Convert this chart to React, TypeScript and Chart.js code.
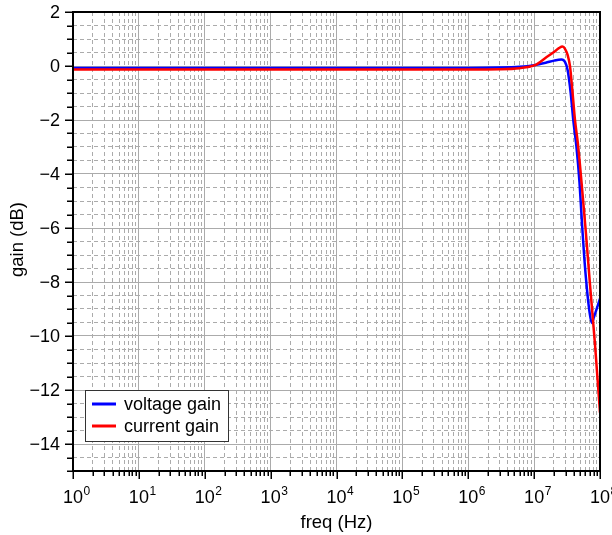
import { useEffect, useRef } from "react";
import { Chart, registerables } from "chart.js";

Chart.register(...registerables);

// ---- data ----
const seriesLabels = ["voltage gain", "current gain"];
const seriesColors = ["#0000ff", "#ff0000"];

const voltageFreq = [1, 1e1, 1e2, 1e3, 1e4, 1e5, 1e6, 3e6, 6e6, 1e7, 1.5e7, 2e7, 2.6e7, 2.94e7, 3.23e7, 3.59e7, 3.93e7, 4.39e7, 4.88e7, 5.32e7, 5.77e7, 6.3e7, 6.88e7, 7.48e7, 8.1e7, 1e8];
const voltageGain = [-0.07, -0.07, -0.07, -0.07, -0.07, -0.07, -0.07, -0.06, -0.03, 0.03, 0.12, 0.2, 0.24, 0.15, -0.16, -1.0, -2.0, -3.0, -4.3, -5.8, -7.1, -8.2, -9.05, -9.52, -9.3, -8.62];

const currentFreq = [1, 1e1, 1e2, 1e3, 1e4, 1e5, 1e6, 3e6, 6e6, 1e7, 1.55e7, 2e7, 2.38e7, 2.69e7, 2.97e7, 3.23e7, 3.5e7, 3.82e7, 4.17e7, 4.63e7, 5.24e7, 6.07e7, 7.05e7, 8.39e7, 1e8];
const currentGain = [-0.13, -0.13, -0.13, -0.13, -0.13, -0.13, -0.13, -0.12, -0.08, 0.02, 0.33, 0.52, 0.66, 0.72, 0.62, 0.4, 0.0, -0.95, -2.0, -2.9, -4.3, -6.1, -8.1, -10.3, -12.84];

const xDecadeExponents = [0, 1, 2, 3, 4, 5, 6, 7, 8];
const yTickLabels = [2, 0, -2, -4, -6, -8, -10, -12, -14];
const yMin = -15;
const yMax = 2;
const yMinorStep = 0.5;
const xTitle = "freq (Hz)";
const yTitle = "gain (dB)";

const FONT = '"Liberation Sans", Arial, Helvetica, sans-serif';
const GRID = "#ababab";

function isDecade(v: number) {
  const l = Math.log10(v);
  return Math.abs(l - Math.round(l)) < 1e-9;
}
function isYMajor(v: number) {
  return Math.abs(v / 2 - Math.round(v / 2)) < 1e-9;
}
function fmtNum(v: number) {
  return v < 0 ? "\u2212" + Math.abs(v) : String(v);
}

const xGridValues: number[] = [];
for (let i = 0; i < xDecadeExponents.length - 1; i++) {
  for (let m = 1; m <= 9; m++) xGridValues.push(m * Math.pow(10, xDecadeExponents[i]));
}
xGridValues.push(Math.pow(10, xDecadeExponents[xDecadeExponents.length - 1]));

const yGridValues: number[] = [];
for (let v = yMin; v <= yMax + 1e-9; v += yMinorStep) yGridValues.push(Math.round(v * 10) / 10);

const igorPlugin = {
  id: "igorAxes",
  afterDatasetsDraw(chart: any) {
    const { ctx, chartArea: a, scales } = chart;
    const xs = scales.x;
    const ys = scales.y;
    ctx.save();
    // frame
    ctx.strokeStyle = "#000";
    ctx.lineWidth = 2;
    ctx.strokeRect(a.left, a.top, a.right - a.left, a.bottom - a.top);

    // x tick marks
    ctx.lineWidth = 1.5;
    ctx.beginPath();
    for (const v of xGridValues) {
      const px = Math.round(xs.getPixelForValue(v)) + 0.25;
      const len = isDecade(v) ? 8 : 5;
      ctx.moveTo(px, a.bottom);
      ctx.lineTo(px, a.bottom + len);
    }
    // y tick marks
    for (const v of yGridValues) {
      const py = Math.round(ys.getPixelForValue(v)) + 0.25;
      const len = isYMajor(v) ? 8 : 6;
      ctx.moveTo(a.left, py);
      ctx.lineTo(a.left - len, py);
    }
    ctx.stroke();

    // x tick labels 10^n
    ctx.fillStyle = "#000";
    ctx.textBaseline = "alphabetic";
    for (const e of xDecadeExponents) {
      const px = xs.getPixelForValue(Math.pow(10, e));
      ctx.font = `18px ${FONT}`;
      ctx.textAlign = "center";
      const base = "10";
      const w = ctx.measureText(base).width;
      ctx.fillText(base, px, a.bottom + 32);
      ctx.font = `12px ${FONT}`;
      ctx.textAlign = "left";
      ctx.fillText(String(e), px + w / 2 + 0.5, a.bottom + 24);
    }

    // y tick labels
    ctx.font = `18px ${FONT}`;
    ctx.textAlign = "right";
    ctx.textBaseline = "middle";
    for (const v of yTickLabels) {
      const py = ys.getPixelForValue(v);
      ctx.fillText(fmtNum(v), a.left - 13, py + 1);
    }

    // axis titles
    ctx.textAlign = "center";
    ctx.textBaseline = "alphabetic";
    ctx.font = `18.5px ${FONT}`;
    ctx.fillText(xTitle, (a.left + a.right) / 2, 528);
    ctx.save();
    ctx.translate(23, (a.top + a.bottom) / 2 - 2);
    ctx.rotate(-Math.PI / 2);
    ctx.fillText(yTitle, 0, 0);
    ctx.restore();

    // legend
    const bx = a.left + 12;
    const by = a.bottom - 81;
    const bw = 143;
    const bh = 51;
    ctx.fillStyle = "#fff";
    ctx.fillRect(bx, by, bw, bh);
    ctx.strokeStyle = "#333";
    ctx.lineWidth = 1;
    ctx.strokeRect(bx + 0.5, by + 0.5, bw, bh);
    const dsets = chart.data.datasets;
    const legendOrder = [0, 1];
    legendOrder.forEach((idx, row) => {
      const ds = dsets.find((d: any) => d.legendIndex === idx);
      const ly = by + 14 + row * 22;
      ctx.strokeStyle = ds.borderColor;
      ctx.lineWidth = 3;
      ctx.beginPath();
      ctx.moveTo(bx + 7, ly);
      ctx.lineTo(bx + 31, ly);
      ctx.stroke();
      ctx.fillStyle = "#000";
      ctx.font = `18px ${FONT}`;
      ctx.textAlign = "left";
      ctx.textBaseline = "middle";
      ctx.fillText(ds.label, bx + 39, ly + 1);
    });

    ctx.restore();
  },
};

export default function App() {
  const ref = useRef<HTMLCanvasElement | null>(null);

  useEffect(() => {
    document.body.style.margin = "0";
    const canvas = ref.current;
    if (!canvas) return;

    const toPts = (xs: number[], ys: number[]) => xs.map((x, i) => ({ x, y: ys[i] }));

    const chart = new Chart(canvas, {
      type: "line",
      data: {
        datasets: [
          {
            label: seriesLabels[0],
            legendIndex: 0,
            data: toPts(voltageFreq, voltageGain),
            borderColor: seriesColors[0],
            backgroundColor: seriesColors[0],
            borderWidth: 2.5,
            pointRadius: 0,
            cubicInterpolationMode: "monotone",
            order: 1,
          } as any,
          {
            label: seriesLabels[1],
            legendIndex: 1,
            data: toPts(currentFreq, currentGain),
            borderColor: seriesColors[1],
            backgroundColor: seriesColors[1],
            borderWidth: 2.5,
            pointRadius: 0,
            cubicInterpolationMode: "monotone",
            order: 0,
          } as any,
        ],
      },
      options: {
        animation: false,
        responsive: false,
        devicePixelRatio: 1,
        parsing: false as any,
        normalized: true,
        layout: { padding: { top: 12, right: 12, left: 0, bottom: 0 } },
        plugins: {
          legend: { display: false },
          tooltip: { enabled: false },
          title: { display: false },
        },
        scales: {
          x: {
            type: "logarithmic",
            min: 1,
            max: 1e8,
            afterBuildTicks: (scale: any) => {
              scale.ticks = xGridValues.map((v) => ({ value: v }));
            },
            afterFit: (scale: any) => {
              scale.height = 64;
            },
            ticks: { display: false },
            border: {
              display: false,
              dash: (ctx: any) => (ctx.tick && !isDecade(ctx.tick.value) ? [4, 3] : []),
            } as any,
            grid: {
              drawTicks: false,
              color: GRID,
              lineWidth: 1,
            },
          },
          y: {
            type: "linear",
            min: yMin,
            max: yMax,
            afterBuildTicks: (scale: any) => {
              scale.ticks = yGridValues.map((v) => ({ value: v }));
            },
            afterFit: (scale: any) => {
              scale.width = 73;
            },
            ticks: { display: false },
            border: {
              display: false,
              dash: (ctx: any) => (ctx.tick && !isYMajor(ctx.tick.value) ? [4, 3] : []),
            } as any,
            grid: {
              drawTicks: false,
              color: GRID,
              lineWidth: 1,
            },
          },
        },
      },
      plugins: [igorPlugin],
    });

    return () => chart.destroy();
  }, []);

  return (
    <div style={{ width: 612, height: 535 }}>
      <canvas ref={ref} width={612} height={535} style={{ display: "block" }} />
    </div>
  );
}
